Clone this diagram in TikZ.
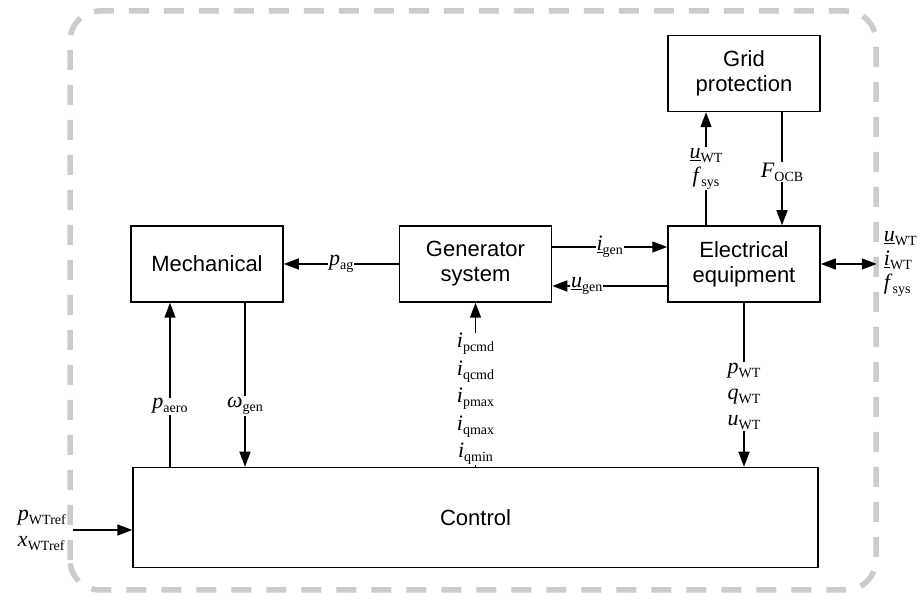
\documentclass[tikz,border=0pt]{standalone}
\usepackage{fontspec}
\setmainfont{Liberation Sans}
\newfontfamily\seriffont{Liberation Serif}
\usepackage{tikz}
\usetikzlibrary{arrows.meta, positioning}
\definecolor{framegray}{RGB}{204,204,204}
\newcommand{\sym}[2]{\textit{#1}\raisebox{-4pt}{\fontsize{14}{14}\selectfont #2}}
\tikzset{
  block/.style={
    rectangle, draw, line width=1.5pt, minimum width=152pt, minimum height=76pt,
    align=center, font=\fontsize{22}{25}\selectfont
  },
  sig/.style={
    fill=white, inner sep=1pt, align=center,
    font=\seriffont\fontsize{22}{#1}\selectfont
  },
  sig/.default=26pt,
  flow/.style={-{Triangle[length=15pt,width=11pt]}, line width=1.5pt},
  flowboth/.style={{Triangle[length=15pt,width=11pt]}-{Triangle[length=15pt,width=11pt]}, line width=1.5pt},
  link/.style={line width=1.5pt},
  frame/.style={draw=framegray, line width=5.5pt, dash pattern=on 20pt off 15pt, rounded corners=30pt}
}

\begin{document}
\begin{tikzpicture}[x=1pt, y=1pt, node distance=115pt]
  \useasboundingbox (0,0) rectangle (921,601);
  \draw[frame] (70,11) rectangle (876,590);

  \node[block] (mech) at (207,337) {Mechanical};
  \node[block, right=of mech] (gen) {Generator\\system};
  \node[block, right=of gen] (elec) {Electrical\\equipment};
  \node[block, above=113pt of elec] (grid) {Grid\\protection};
  \node[block, below=164pt of gen, minimum width=685pt, minimum height=100pt] (ctrl)
    {Control};

  % generator <-> mechanical / electrical
  \draw[flow] (gen) -- node[sig]{\sym{p}{ag}} (mech);
  \draw[flow] ([yshift=17pt]gen.east) -- node[sig]{\sym{\underline{i}}{gen}}
    ([yshift=17pt]elec.west);
  \draw[flow] ([yshift=-22pt]elec.west) -- node[sig, pos=0.7]{\sym{\underline{u}}{gen}}
    ([yshift=-22pt]gen.east);

  % grid protection
  \draw[flow] ([xshift=-38pt]elec.north) --
    node[sig=24pt]{\sym{\underline{u}}{WT}\\\sym{f}{sys}} ([xshift=-38pt]grid.south);
  \draw[flow] ([xshift=38pt]grid.south) -- node[sig, pos=0.53]{\sym{F}{OCB}}
    ([xshift=38pt]elec.north);

  % grid connection
  \coordinate[right=56pt of elec.east] (ext);
  \draw[flowboth] (elec) -- (ext);
  \node[sig=24pt, fill=none, align=left, right=6pt of ext] (extsig)
    {\sym{\underline{u}}{WT}\\\sym{\underline{i}}{WT}\\\sym{f}{sys}};

  % mechanical <-> control
  \draw[flow] ([xshift=-37pt]mech.south |- ctrl.north) --
    node[sig, pos=0.37]{\sym{p}{aero}} ([xshift=-37pt]mech.south);
  \draw[flow] ([xshift=38pt]mech.south) --
    node[sig, pos=0.63]{\sym{ω}{gen}} ([xshift=38pt]mech.south |- ctrl.north);

  % control -> generator
  \node[sig=27.5pt, fill=none, inner sep=0pt, below=30pt of gen] (istack)
    {\sym{i}{pcmd}\\\sym{i}{qcmd}\\\sym{i}{pmax}\\\sym{i}{qmax}\\\sym{i}{qmin}};
  \draw[flow] (istack) -- (gen);
  \draw[link] (ctrl.north -| istack) -- (istack);

  % electrical -> control
  \draw[flow] (elec) -- node[sig, pos=0.57]{\sym{p}{WT}\\\sym{q}{WT}\\\sym{u}{WT}}
    (elec.south |- ctrl.north);

  % references
  \coordinate (refin) at (73,71);
  \draw[flow] (refin) -- (refin -| ctrl.west);
  \node[sig, fill=none, align=left, left=6pt of refin] (refsig)
    {\sym{p}{WTref}\\\sym{x}{WTref}};
\end{tikzpicture}
\end{document}
